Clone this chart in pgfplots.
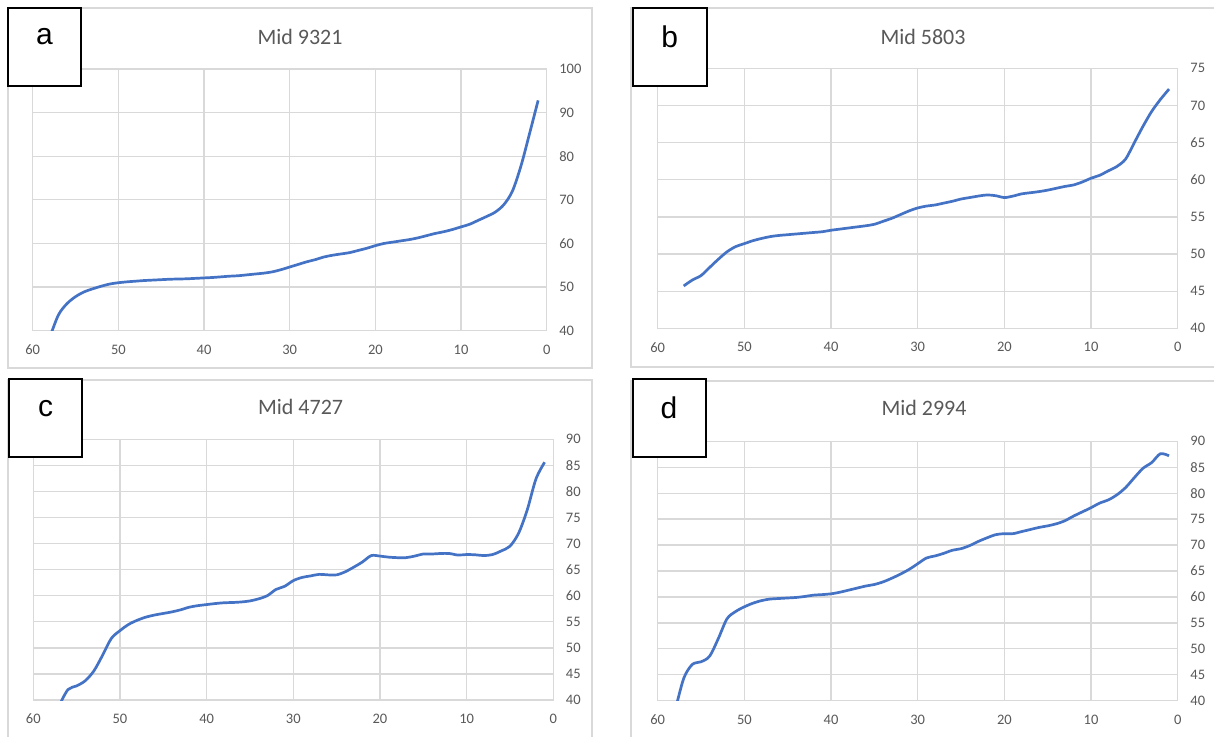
\documentclass[border=0pt]{standalone}
\usepackage{pgfplots}
\usepackage{pgfplotstable}
\pgfplotsset{compat=1.18}
\usepackage{fontspec}
\setmainfont{Carlito}
\newfontfamily\letterfont{Liberation Sans}

\definecolor{lineblue}{HTML}{4472C4}
\definecolor{gridgray}{HTML}{D9D9D9}
\definecolor{labelgray}{HTML}{595959}

% Mid 9321
\pgfplotstableread{
x y
58 38.5
57 43.6
56 46.2
55 47.8
54 48.9
53 49.6
52 50.2
51 50.7
50 51.0
49 51.2
48 51.35
47 51.5
46 51.6
45 51.7
44 51.8
43 51.85
42 51.9
41 52.0
40 52.1
39 52.2
38 52.35
37 52.5
36 52.6
35 52.8
34 53.0
33 53.2
32 53.5
31 54.0
30 54.6
29 55.2
28 55.8
27 56.3
26 56.9
25 57.3
24 57.6
23 57.9
22 58.4
21 58.9
20 59.5
19 60.0
18 60.3
17 60.6
16 60.9
15 61.3
14 61.8
13 62.3
12 62.7
11 63.2
10 63.8
9 64.4
8 65.3
7 66.2
6 67.2
5 68.9
4 72.0
3 77.8
2 85.2
1 92.8
}\tabA

% Mid 5803
\pgfplotstableread{
x y
57 45.7
56 46.5
55 47.1
54 48.2
53 49.3
52 50.3
51 51.0
50 51.4
49 51.8
48 52.1
47 52.35
46 52.5
45 52.6
44 52.7
43 52.8
42 52.9
41 53.0
40 53.2
39 53.35
38 53.5
37 53.65
36 53.8
35 54.0
34 54.4
33 54.8
32 55.3
31 55.8
30 56.2
29 56.45
28 56.6
27 56.85
26 57.1
25 57.4
24 57.6
23 57.8
22 57.95
21 57.85
20 57.6
19 57.8
18 58.1
17 58.25
16 58.4
15 58.6
14 58.85
13 59.1
12 59.3
11 59.7
10 60.2
9 60.6
8 61.2
7 61.8
6 62.8
5 65.0
4 67.2
3 69.2
2 70.8
1 72.2
}\tabB

% Mid 4727
\pgfplotstableread{
x y
57 39.0
56 42.0
55 42.7
54 43.7
53 45.6
52 48.6
51 51.8
50 53.3
49 54.5
48 55.3
47 55.9
46 56.3
45 56.6
44 56.9
43 57.3
42 57.8
41 58.1
40 58.3
39 58.5
38 58.65
37 58.7
36 58.8
35 59.0
34 59.4
33 60.0
32 61.2
31 61.8
30 62.9
29 63.5
28 63.8
27 64.1
26 64.0
25 64.0
24 64.6
23 65.5
22 66.5
21 67.7
20 67.6
19 67.4
18 67.3
17 67.3
16 67.6
15 68.0
14 68.0
13 68.1
12 68.1
11 67.8
10 67.9
9 67.85
8 67.7
7 67.9
6 68.6
5 69.5
4 72.0
3 76.5
2 82.4
1 85.6
}\tabC

% Mid 2994
\pgfplotstableread{
x y
58 38.0
57 44.3
56 47.0
55 47.5
54 48.6
53 52.0
52 55.8
51 57.2
50 58.1
49 58.8
48 59.3
47 59.6
46 59.7
45 59.8
44 59.9
43 60.1
42 60.35
41 60.45
40 60.6
39 60.9
38 61.3
37 61.7
36 62.1
35 62.4
34 62.9
33 63.6
32 64.4
31 65.3
30 66.4
29 67.5
28 67.9
27 68.4
26 69.0
25 69.3
24 69.9
23 70.7
22 71.4
21 72.0
20 72.2
19 72.2
18 72.6
17 73.0
16 73.4
15 73.7
14 74.1
13 74.7
12 75.6
11 76.4
10 77.2
9 78.1
8 78.7
7 79.7
6 81.1
5 83.0
4 84.8
3 85.9
2 87.6
1 87.2
}\tabD

\pgfplotsset{
  panel/.style={
    scale only axis,
    anchor=south west,
    x dir=reverse,
    xmin=0, xmax=60, xtick={0,10,...,60},
    grid=major,
    major grid style={line width=1.3pt, draw=gridgray},
    axis line style={line width=1.3pt, draw=gridgray},
    major tick length=0pt,
    yticklabel pos=right,
    tick label style={font=\fontsize{14.5}{16}\selectfont, text=labelgray, inner sep=0pt},
    xticklabel style={anchor=center, yshift=-19pt},
    yticklabel style={anchor=west, xshift=12.5pt},
    /pgf/number format/assume math mode=true,
  },
  curve/.style={line width=2.7pt, color=lineblue, smooth, mark=none},
}

\newcommand{\paneltitle}[2]{\node[font=\fontsize{22}{24}\selectfont, text=labelgray] at #1 {#2};}
\newcommand{\letterbox}[4]{%
  \draw[line width=2pt, fill=white] #1 rectangle #2;
  \node[font=\letterfont\fontsize{30}{32}\selectfont] at #3 {#4};}

\begin{document}
\begin{tikzpicture}
\useasboundingbox (0pt,0pt) rectangle (1214pt,736pt);
\fill[white] (0pt,0pt) rectangle (1214pt,736pt);

% chart area frames
\begin{scope}[x=1pt, y=1pt]
\draw[gridgray, line width=1.2pt] (8,368) rectangle (592,728);
\draw[gridgray, line width=1.2pt] (1218,369) -- (631,369) -- (631,728) -- (1218,728);
\draw[gridgray, line width=1.2pt] (8,-4) -- (8,356) -- (592,356) -- (592,-4);
\draw[gridgray, line width=1.2pt] (631,-4) -- (631,355) -- (1218,355);
\end{scope}

% a
\begin{axis}[panel, at={(32.7pt,405.3pt)}, width=514pt, height=261.7pt,
  ymin=40, ymax=100, ytick={40,50,...,100}]
\addplot[curve] table[x=x, y=y] {\tabA};
\end{axis}

% b
\begin{axis}[panel, at={(657.7pt,407.7pt)}, width=520pt, height=260pt,
  ymin=40, ymax=75, ytick={40,45,...,75}]
\addplot[curve] table[x=x, y=y] {\tabB};
\end{axis}

% c
\begin{axis}[panel, at={(33.3pt,36pt)}, width=520pt, height=260.7pt,
  ymin=40, ymax=90, ytick={40,45,...,90}]
\addplot[curve] table[x=x, y=y] {\tabC};
\end{axis}

% d
\begin{axis}[panel, at={(657.7pt,35.3pt)}, width=520pt, height=259.4pt,
  ymin=40, ymax=90, ytick={40,45,...,90}]
\addplot[curve] table[x=x, y=y] {\tabD};
\end{axis}

% titles and panel letters
\begin{scope}[x=1pt, y=1pt]
\paneltitle{(300,699)}{Mid 9321}
\letterbox{(8,650)}{(81,728)}{(44.5,699)}{a}
\paneltitle{(923,699)}{Mid 5803}
\letterbox{(633,650)}{(707,728)}{(669.7,699)}{b}
\paneltitle{(300.6,329)}{Mid 4727}
\letterbox{(8.5,279)}{(82,357)}{(45.6,327)}{c}
\paneltitle{(924,328)}{Mid 2994}
\letterbox{(632.5,279)}{(705.6,357)}{(669,328)}{d}
\end{scope}
\end{tikzpicture}
\end{document}
